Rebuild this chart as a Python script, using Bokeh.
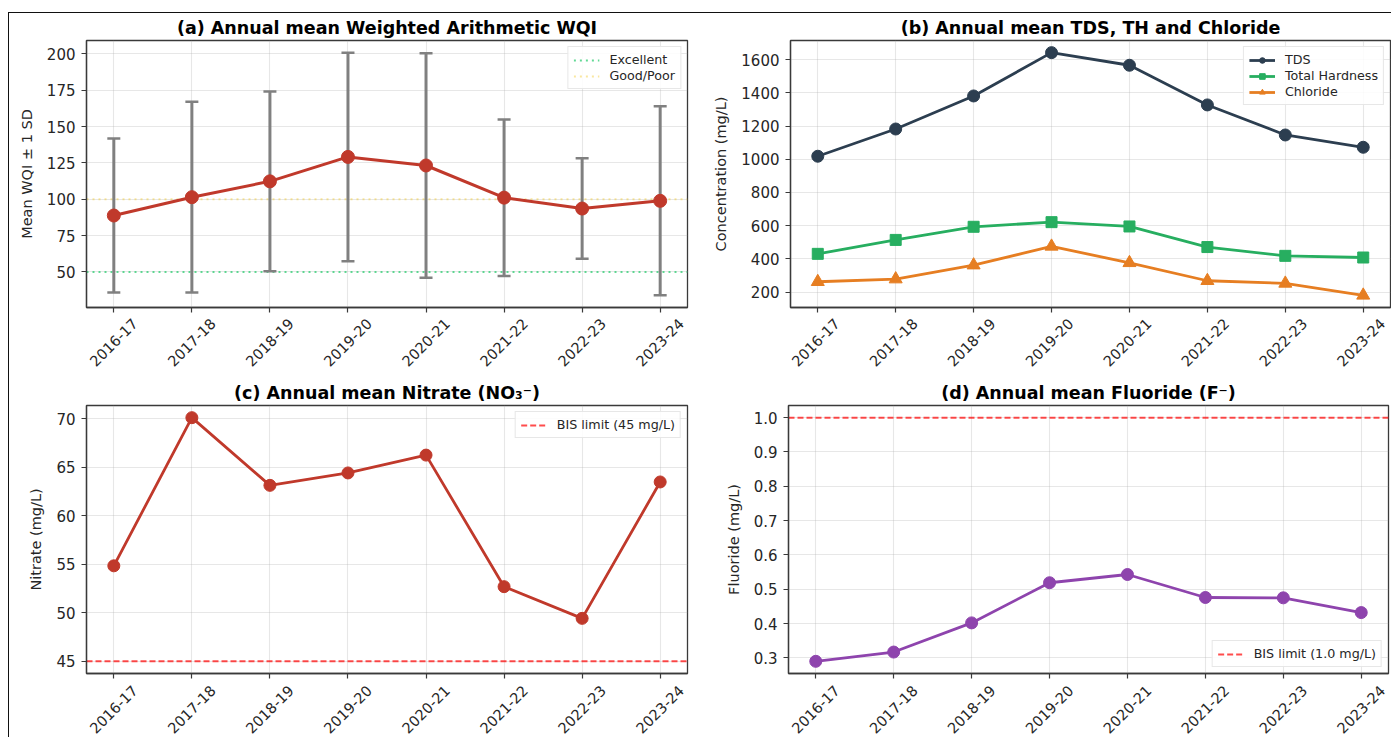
import math

from bokeh.core.properties import value
from bokeh.embed import file_html
from bokeh.layouts import column, row
from bokeh.models import (ColumnDataSource, FixedTicker, Legend, LegendItem,
                          NumeralTickFormatter, Range1d, TeeHead, Whisker)
from bokeh.plotting import figure
from bokeh.resources import INLINE

# ---- data ---------------------------------------------------------------
years = ["2016-17", "2017-18", "2018-19", "2019-20",
         "2020-21", "2021-22", "2022-23", "2023-24"]

wqi_mean = [88.8, 101.4, 112.3, 129.1, 123.2, 101.1, 93.6, 98.9]
wqi_sd = [53.0, 65.6, 61.8, 71.7, 77.2, 53.8, 34.5, 65.0]
wqi_excellent = 50
wqi_good_poor = 100

tds = [1018, 1182, 1381, 1642, 1566, 1327, 1146, 1072]
hardness = [430, 514, 593, 621, 595, 471, 418, 408]
chloride = [262, 278, 362, 475, 376, 268, 252, 180]

nitrate = [54.85, 70.13, 63.15, 64.43, 66.27, 52.70, 49.43, 63.50]
nitrate_limit = 45

fluoride = [0.290, 0.317, 0.402, 0.519, 0.543, 0.476, 0.475, 0.432]
fluoride_limit = 1.0

wqi_ticks = [50, 75, 100, 125, 150, 175, 200]
conc_ticks = [200, 400, 600, 800, 1000, 1200, 1400, 1600]
nitrate_ticks = [45, 50, 55, 60, 65, 70]
fluoride_ticks = [0.3, 0.4, 0.5, 0.6, 0.7, 0.8, 0.9, 1.0]

# ---- styling ------------------------------------------------------------
FONT = "DejaVu Sans"
INK = "#262626"
SPINE = "#3a3a3a"
xs = list(range(len(years)))
X_PAD = 0.35
X_LO, X_HI = -X_PAD, len(years) - 1 + X_PAD


def padded(values, frac=0.05):
    lo, hi = min(values), max(values)
    pad = (hi - lo) * frac
    return Range1d(lo - pad, hi + pad)


def panel(title, ylabel, yrange, yticks, left, right, top, fw, fh):
    p = figure(frame_width=fw, frame_height=fh,
               x_range=Range1d(X_LO, X_HI), y_range=yrange,
               output_backend="svg", toolbar_location=None,
               min_border_left=left, min_border_right=right,
               min_border_top=top, min_border_bottom=7,
               background_fill_color="white", border_fill_color="white")
    p.title.text = title
    p.title.align = "center"
    p.title.text_font = FONT
    p.title.text_font_size = "17.5px"
    p.title.text_font_style = "bold"
    p.title.text_color = "black"
    p.title.standoff = 5

    p.outline_line_color = SPINE
    p.outline_line_width = 1.3
    p.outline_line_alpha = 1.0

    for ax in (p.xaxis[0], p.yaxis[0]):
        ax.axis_line_color = SPINE
        ax.axis_line_width = 1.3
        ax.major_tick_line_color = SPINE
        ax.major_tick_line_width = 1.2
        ax.major_tick_out = 5
        ax.major_tick_in = 0
        ax.minor_tick_line_color = None
        ax.major_label_text_font = FONT
        ax.major_label_text_font_size = "15px"
        ax.major_label_text_color = INK

    # tick marks only on the category axis; its labels live in the strip below
    p.xaxis.ticker = FixedTicker(ticks=xs)
    p.xaxis.major_label_overrides = {i: "" for i in xs}
    p.xaxis.major_label_text_font_size = "0px"
    p.xaxis.major_label_standoff = 0

    p.yaxis.ticker = FixedTicker(ticks=yticks)
    p.yaxis.major_label_standoff = 6
    p.yaxis.axis_label = ylabel
    p.yaxis.axis_label_text_font = FONT
    p.yaxis.axis_label_text_font_size = "14.5px"
    p.yaxis.axis_label_text_font_style = "normal"
    p.yaxis.axis_label_text_color = INK
    p.yaxis.axis_label_standoff = 9

    for g in (p.xgrid[0], p.ygrid[0]):
        g.grid_line_color = "#b0b0b0"
        g.grid_line_alpha = 0.3
        g.grid_line_width = 1.1
    return p


def label_strip(left, right, fw, height, drop, extra_left=30):
    """Rotated year labels, centred under the ticks of the panel above."""
    extra_right = right
    ppu = fw / (X_HI - X_LO)
    s = figure(frame_width=fw + extra_left + extra_right, frame_height=height,
               x_range=Range1d(X_LO - extra_left / ppu, X_HI + extra_right / ppu),
               y_range=Range1d(-height, 0), title=None,
               x_axis_location=None, y_axis_location=None,
               output_backend="svg", toolbar_location=None,
               min_border_left=left - extra_left, min_border_right=0,
               min_border_top=0, min_border_bottom=0,
               outline_line_color=None, border_fill_color="white")
    s.grid.visible = False
    s.text(x="x", y=-drop, text="text", source=ColumnDataSource(dict(x=xs, text=years)),
           angle=math.pi / 4, text_align="center", text_baseline="middle",
           text_font=value(FONT), text_font_size="14.5px", text_color=INK)
    return s


def style_legend(items, location):
    lg = Legend(items=items, location=location)
    lg.label_text_font = FONT
    lg.label_text_font_size = "12.7px"
    lg.label_text_color = INK
    lg.glyph_width = 26
    lg.glyph_height = 14
    lg.label_height = 14
    lg.label_standoff = 10
    lg.spacing = 1
    lg.padding = 5
    lg.margin = 6
    lg.border_line_color = "#d0d0d0"
    lg.border_line_width = 1
    lg.background_fill_color = "white"
    lg.background_fill_alpha = 0.85
    return lg


def hline(p, level_value, **style):
    # horizontal reference line spanning the full category axis
    return p.line(x=[X_LO, X_HI], y=[level_value, level_value], **style)


LEFT_W, RIGHT_W = 601, 600
TOP_H, BOT_H = 267, 268

# ---- (a) WQI with +/- 1 SD ----------------------------------------------
upper = [m + s for m, s in zip(wqi_mean, wqi_sd)]
lower = [m - s for m, s in zip(wqi_mean, wqi_sd)]
pa = panel("(a) Annual mean Weighted Arithmetic WQI", "Mean WQI \u00b1 1 SD",
           padded(upper + lower + [wqi_excellent, wqi_good_poor]), wqi_ticks,
           77, 23, 26, LEFT_W, TOP_H)
src_a = ColumnDataSource(dict(x=xs, mean=wqi_mean, upper=upper, lower=lower))
r_exc = hline(pa, wqi_excellent, line_color="#2ecc71", line_alpha=0.75,
              line_width=2, line_dash="2 4")
r_gp = hline(pa, wqi_good_poor, line_color="#f1c40f", line_alpha=0.4,
             line_width=2, line_dash="2 4")
err_col = "#808080"
pa.add_layout(Whisker(base="x", upper="upper", lower="lower", source=src_a,
                      line_color=err_col, line_width=3, level="glyph",
                      upper_head=TeeHead(size=13, line_color=err_col, line_width=2.5),
                      lower_head=TeeHead(size=13, line_color=err_col, line_width=2.5)))
ra_line = pa.line("x", "mean", source=src_a, line_color="#c0392b", line_width=3)
ra_pts = pa.scatter("x", "mean", source=src_a, marker="circle", size=13,
                    fill_color="#c0392b", line_color="#c0392b")
ra_line.level = "overlay"
ra_pts.level = "overlay"
pa.add_layout(style_legend([LegendItem(label="Excellent", renderers=[r_exc]),
                            LegendItem(label="Good/Poor", renderers=[r_gp])], "top_right"))

# ---- (b) TDS, hardness, chloride ----------------------------------------
pb = panel("(b) Annual mean TDS, TH and Chloride", "Concentration (mg/L)",
           padded(tds + hardness + chloride), conc_ticks,
           78, 3, 26, RIGHT_W, TOP_H)
src_b = ColumnDataSource(dict(x=xs, tds=tds, th=hardness, cl=chloride))
items_b = []
for key, label, colour, marker, size in [("tds", "TDS", "#2c3e50", "circle", 12),
                                         ("th", "Total Hardness", "#27ae60", "square", 11),
                                         ("cl", "Chloride", "#e67e22", "triangle", 13)]:
    rl = pb.line("x", key, source=src_b, line_color=colour, line_width=2.8)
    rs = pb.scatter("x", key, source=src_b, marker=marker, size=size,
                    fill_color=colour, line_color=colour)
    items_b.append(LegendItem(label=label, renderers=[rl, rs]))
pb.add_layout(style_legend(items_b, "top_right"))

# ---- (c) nitrate ----------------------------------------------------------
lim_style = dict(line_color="red", line_alpha=0.7, line_width=2, line_dash="6 3")
pc = panel("(c) Annual mean Nitrate (NO\u2083\u207b)", "Nitrate (mg/L)",
           padded(nitrate + [nitrate_limit]), nitrate_ticks,
           77, 23, 31, LEFT_W, BOT_H)
src_c = ColumnDataSource(dict(x=xs, v=nitrate))
r_lc = hline(pc, nitrate_limit, **lim_style)
pc.line("x", "v", source=src_c, line_color="#c0392b", line_width=2.8)
pc.scatter("x", "v", source=src_c, marker="circle", size=12,
           fill_color="#c0392b", line_color="#c0392b")
pc.add_layout(style_legend([LegendItem(label="BIS limit (45 mg/L)", renderers=[r_lc])], "top_right"))

# ---- (d) fluoride ---------------------------------------------------------
pd_ = panel("(d) Annual mean Fluoride (F\u207b)", "Fluoride (mg/L)",
            padded(fluoride + [fluoride_limit]), fluoride_ticks,
            78, 3, 31, RIGHT_W, BOT_H)
pd_.yaxis.formatter = NumeralTickFormatter(format="0.0")
src_d = ColumnDataSource(dict(x=xs, v=fluoride))
r_ld = hline(pd_, fluoride_limit, **lim_style)
pd_.line("x", "v", source=src_d, line_color="#8e44ad", line_width=2.8)
pd_.scatter("x", "v", source=src_d, marker="circle", size=12,
            fill_color="#8e44ad", line_color="#8e44ad")
pd_.add_layout(style_legend([LegendItem(label="BIS limit (1.0 mg/L)", renderers=[r_ld])], "bottom_right"))

# ---- year-label strips ------------------------------------------------------
sa = label_strip(77, 23, LEFT_W, 60, 28)
sb = label_strip(78, 3, RIGHT_W, 60, 28)
sc = label_strip(77, 23, LEFT_W, 58, 29)
sd = label_strip(78, 3, RIGHT_W, 58, 29)

page = column(row(pa, pb), row(sa, sb), row(pc, pd_), row(sc, sd),
              margin=(12, 0, 0, 8),
              styles={"border-top": "1px solid #111", "border-left": "1px solid #111"})

open("out.html", "w").write(file_html(page, INLINE))
